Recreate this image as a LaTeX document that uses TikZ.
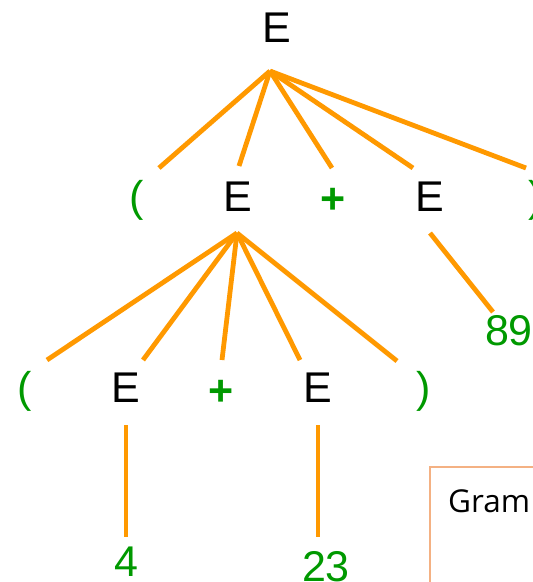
\documentclass[tikz,border=0pt]{standalone}
\usepackage{fontspec}
\setmainfont{Liberation Sans}
\newfontfamily\gramfont{Open Sans}
\definecolor{edgeor}{RGB}{255,153,0}
\definecolor{termgr}{RGB}{0,153,0}
\definecolor{boxor}{RGB}{244,177,131}
\tikzset{
  nt/.style={anchor=base, inner sep=0pt, font=\fontsize{43}{50}\selectfont, text=black},
  tm/.style={anchor=base, inner sep=0pt, font=\fontsize{43}{50}\selectfont, text=termgr},
  tmb/.style={tm, font=\bfseries\fontsize{43}{50}\selectfont},
  edge/.style={draw=edgeor, line width=4.8pt},
}
\begin{document}
\begin{tikzpicture}[x=1pt,y=-1pt]
\clip (0,0) rectangle (533,582);
\fill[white] (0,0) rectangle (533,582);
% box
\draw[boxor, line width=2pt] (430,600) -- (430,467) -- (560,467);
\node[anchor=base west, inner sep=0pt, font=\gramfont\fontsize{31.5}{36}\selectfont] (gram) at (448,512) {Gram};
% row 1
\node[nt] (e0) at (277,42) {E};
% row 2
\node[tm] (lp1) at (137,211) {(};
\node[nt] (e1) at (238,211) {E};
\node[tmb] (pl1) at (333,213) {+};
\node[nt] (e2) at (430,211) {E};
\node[tm] (rp1) at (536,211) {)};
% row 3
\node[nt] (e3) at (126,402) {E};
\node[tm] (lp2) at (25,402) {(};
\node[tmb] (pl2) at (221,405) {+};
\node[nt] (e4) at (318,402) {E};
\node[tm] (rp2) at (424,402) {)};
% leaves
\node[tm] (n89) at (509,345) {89};
\node[tm] (n4) at (126,576) {4};
\node[tm] (n23) at (326,581) {23};
% coordinates
\coordinate (a0) at (270,71);
\coordinate (a0lp) at (159,168);
\coordinate (a0e) at (239,166);
\coordinate (a0pl) at (332,168);
\coordinate (a0e2) at (413,168);
\coordinate (a0rp) at (526,168);
\coordinate (a1) at (237,233);
\coordinate (a1lp) at (47,360);
\coordinate (a1e) at (143,360);
\coordinate (a1pl) at (222,360);
\coordinate (a1e2) at (300,360);
\coordinate (a1rp) at (397,361);
\coordinate (b2t) at (430,233);
\coordinate (b2b) at (493,312);
\coordinate (b3t) at (126,425);
\coordinate (b3b) at (126,537);
\coordinate (b4t) at (318,425);
\coordinate (b4b) at (318,537);
% edges
\draw[edge] (a0) -- (a0lp);
\draw[edge] (a0) -- (a0e);
\draw[edge] (a0) -- (a0pl);
\draw[edge] (a0) -- (a0e2);
\draw[edge] (a0) -- (a0rp);
\draw[edge] (a1) -- (a1lp);
\draw[edge] (a1) -- (a1e);
\draw[edge] (a1) -- (a1pl);
\draw[edge] (a1) -- (a1e2);
\draw[edge] (a1) -- (a1rp);
\draw[edge] (b2t) -- (b2b);
\draw[edge] (b3t) -- (b3b);
\draw[edge] (b4t) -- (b4b);
\end{tikzpicture}
\end{document}
